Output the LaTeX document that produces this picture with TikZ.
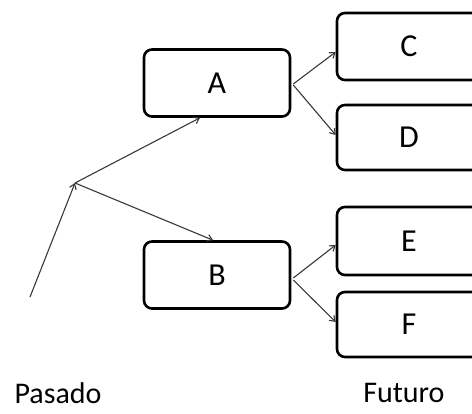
\documentclass[tikz,border=0pt]{standalone}
\usepackage{fontspec}
\setmainfont{Carlito}
\usetikzlibrary{arrows.meta}
\begin{document}
\begin{tikzpicture}[x=1pt,y=1pt,
  box/.style={draw=black, line width=2.6pt, rounded corners=8pt, fill=white,
    minimum width=146pt, minimum height=67pt, inner sep=0pt, font=\fontsize{32}{34}\selectfont},
  link/.style={draw=black!78, line width=1.1pt, -{Straight Barb[length=5pt,width=7pt]}},
  lbl/.style={font=\fontsize{30}{33}\selectfont, inner sep=0pt}]
  \useasboundingbox (0,0) rectangle (472,414);
  \clip (0,0) rectangle (472,414);
  % nodes
  \node[box] (A) at (217,331) {A};
  \node[box] (B) at (217,139) {B};
  \node[box, minimum width=144pt] (C) at (409,367.5) {C};
  \node[box, minimum width=144pt, minimum height=65pt] (D) at (409,276.5) {D};
  \node[box, minimum width=144pt, minimum height=68pt] (E) at (409,173) {E};
  \node[box, minimum width=144pt, minimum height=65pt] (F) at (409,89.5) {F};
  % timeline labels
  \node[lbl] (pas) at (58,21) {Pasado};
  \node[lbl] (fut) at (404,21) {Futuro};
  % branching point
  \coordinate (S) at (30,117);
  \coordinate (J) at (75,231);
  \draw[link] (S) -- (J);
  \draw[link] (J) -- ([xshift=-17pt]A.south);
  \draw[link] (J) -- ([xshift=-4pt]B.north);
  \draw[link] ([xshift=2pt,yshift=-1pt]A.east) -- ([yshift=-5.5pt]C.west);
  \draw[link] ([xshift=2pt,yshift=-2pt]A.east) -- ([yshift=2.5pt]D.west);
  \draw[link] ([xshift=2pt,yshift=-3pt]B.east) -- ([yshift=-4pt]E.west);
  \draw[link] ([xshift=2pt,yshift=-5pt]B.east) -- ([yshift=2.5pt]F.west);
\end{tikzpicture}
\end{document}
